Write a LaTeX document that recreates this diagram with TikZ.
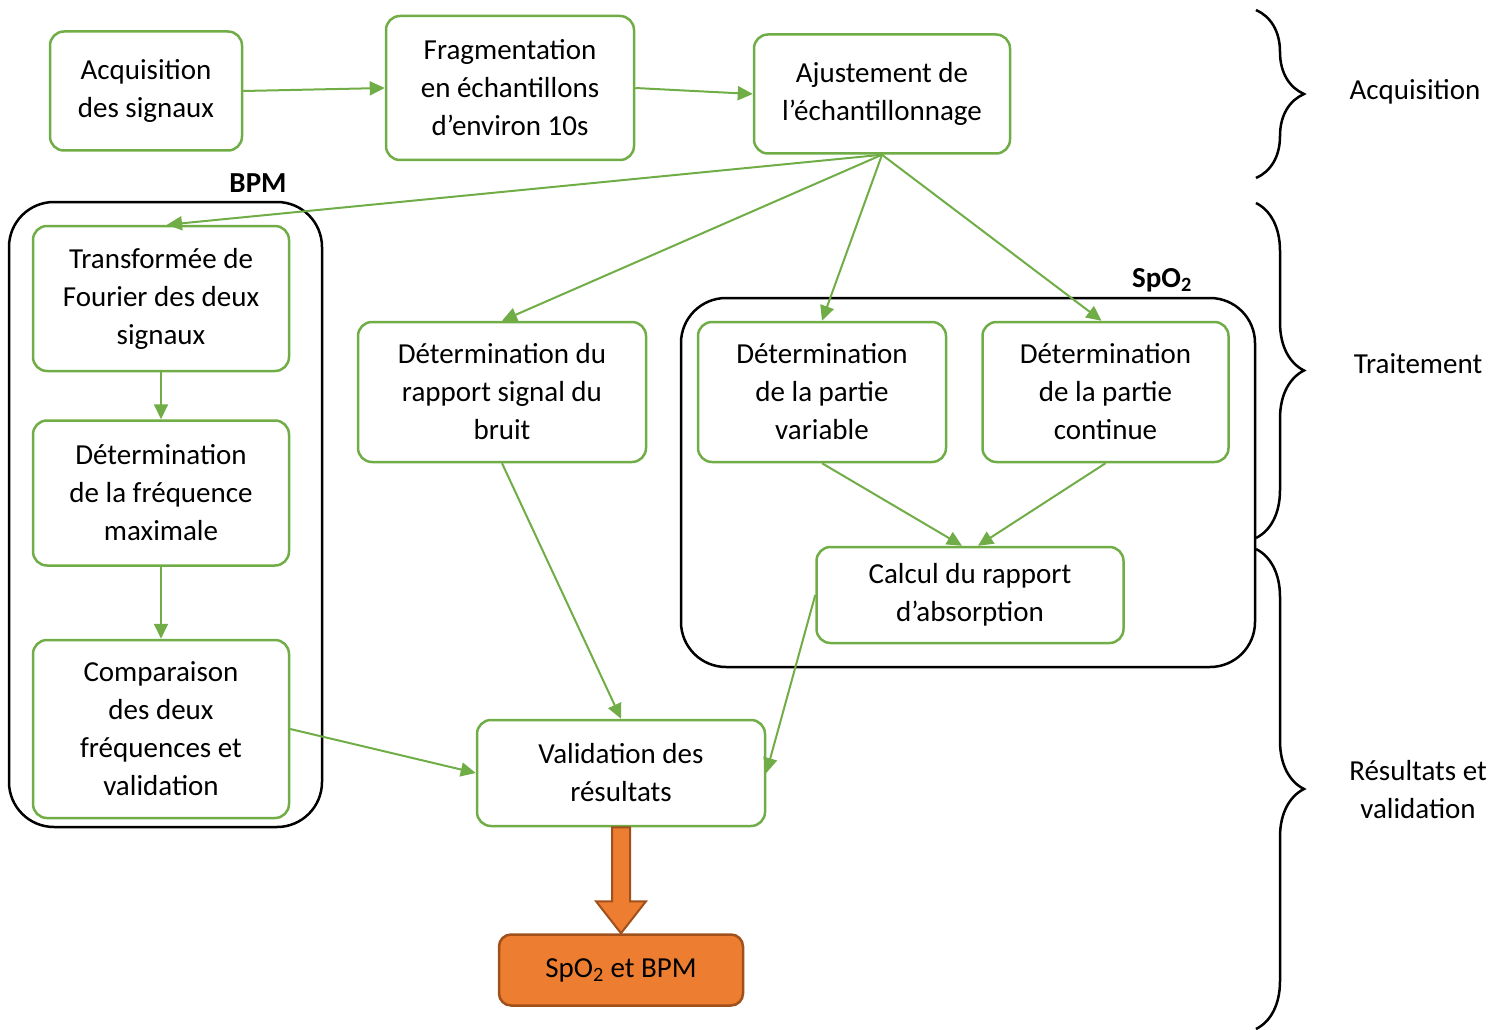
\documentclass[tikz,border=0pt]{standalone}
\usepackage{fontspec}
\setmainfont{Carlito}
\usepackage{tikz}
\usetikzlibrary{positioning, calc, arrows.meta, decorations.pathreplacing}
\definecolor{vert}{HTML}{70AD47}
\definecolor{orange}{HTML}{ED7D31}
\definecolor{brun}{HTML}{A0501A}

\begin{document}
\begin{tikzpicture}[x=1pt, y=-1pt,
    font=\fontsize{29}{38}\selectfont,
    etape/.style={rectangle,
      draw=vert,
      line width=2.5pt,
      rounded corners=14pt,
      align=center,
      inner sep=0pt,
      minimum width=#1},
    etape/.default=256pt,
    groupe/.style={rectangle,
      draw=black,
      line width=2.5pt,
      rounded corners=45pt,
      inner sep=0pt},
    fleche/.style={draw=vert,
      line width=2pt,
      -{Triangle[length=15pt,width=14pt]}},
    accolade/.style={draw=black,
      line width=2.5pt,
      decorate,
      decoration={brace, amplitude=48pt}}]

  \useasboundingbox (0,0) rectangle (1505,1030);

  % ACQUISITION

  \node[etape=192pt, minimum height=119pt] (acq) at (146,91) {
    Acquisition\\des signaux
  };

  \node[etape=248pt, minimum height=144pt] (frag) at (510,88) {
    Fragmentation\\en échantillons\\d’environ 10s
  };

  \node[etape, minimum height=119pt] (ajust) at (882,94) {
    Ajustement de\\l’échantillonnage
  };

  % BPM

  \node[groupe, minimum width=313pt, minimum height=625pt] (bpmgrp) at (165.5,514.5) {};
  \node (bpmtitle) at (258,183) {\textbf{BPM}};

  \node[etape, minimum height=145pt] (four) at (161,298.5) {
    Transformée de\\Fourier des deux\\signaux
  };

  \node[etape, minimum height=145pt,
    below=47pt of four] (detfreq) {
    Détermination\\de la fréquence\\maximale
  };

  \node[etape, minimum height=178pt,
    below=72pt of detfreq] (comp) {
    Comparaison\\des deux\\fréquences et\\validation
  };

  % SIGNAL / BRUIT

  \node[etape=288pt, minimum height=140pt] (snr) at (502,392) {
    Détermination du\\rapport signal du\\bruit
  };

  % SPO2

  \node[groupe, minimum width=574pt, minimum height=369pt] (spogrp) at (968,482.5) {};
  \node (spotitle) at (1162,280) {\textbf{SpO\textsubscript{2}}};

  \node[etape=248pt, minimum height=140pt] (var) at (822,392) {
    Détermination\\de la partie\\variable
  };

  \node[etape=246pt, minimum height=140pt,
    right=34pt of var] (cont) {
    Détermination\\de la partie\\continue
  };

  \node[etape=307pt, minimum height=96pt] (absorp) at (970,595) {
    Calcul du rapport\\d’absorption
  };

  % RESULTATS

  \node[etape=288pt, minimum height=106pt] (valid) at (621,773) {
    Validation des\\résultats
  };

  \node[rectangle, draw=brun, fill=orange, line width=2.5pt,
    rounded corners=12pt, minimum width=244pt, minimum height=71pt,
    below=106pt of valid] (result) {
    SpO\textsubscript{2} et BPM
  };

  % FLECHES

  \draw[fleche] (acq.east) -- (frag.west);
  \draw[fleche] (frag.east) -- (ajust.west);
  \draw[fleche] (ajust.south) -- ($(four.north)+(6,0)$);
  \draw[fleche] (ajust.south) -- (snr.north);
  \draw[fleche] (ajust.south) -- (var.north);
  \draw[fleche] (ajust.south) -- ($(cont.north)+(-4,0)$);
  \draw[fleche] (four.south) -- (detfreq.north);
  \draw[fleche] (detfreq.south) -- (comp.north);
  \draw[fleche] (var.south) -- ($(absorp.north)+(-8,0)$);
  \draw[fleche] (cont.south) -- ($(absorp.north)+(8,0)$);
  \draw[fleche] (snr.south) -- (valid.north);
  \draw[fleche] (comp.east) -- (valid.west);
  \draw[fleche] (absorp.west) -- (valid.east);

  \draw[draw=brun, fill=orange, line width=2pt, line join=miter]
    ($(valid.south)+(-9,0)$) -- ($(result.north)+(-9,-32)$)
    -- ($(result.north)+(-25,-32)$) -- (result.north)
    -- ($(result.north)+(25,-32)$) -- ($(result.north)+(9,-32)$)
    -- ($(valid.south)+(9,0)$) -- cycle;

  % ACCOLADES

  \coordinate (acqhaut) at (1256,10);
  \coordinate (acqbas) at (1256,178);
  \coordinate (traithaut) at (1256,203);
  \coordinate (traitbas) at (1256,538);
  \coordinate (reshaut) at (1256,549);
  \coordinate (resbas) at (1256,1029);

  \draw[accolade] (acqhaut) -- (acqbas);
  \draw[accolade] (traithaut) -- (traitbas);
  \draw[accolade] (reshaut) -- (resbas);

  \node (acqlabel) at (1415,92) {Acquisition};
  \node (traitlabel) at (1418,364) {Traitement};
  \node[align=center] (reslabel) at (1418,790) {Résultats et\\validation};

\end{tikzpicture}
\end{document}
